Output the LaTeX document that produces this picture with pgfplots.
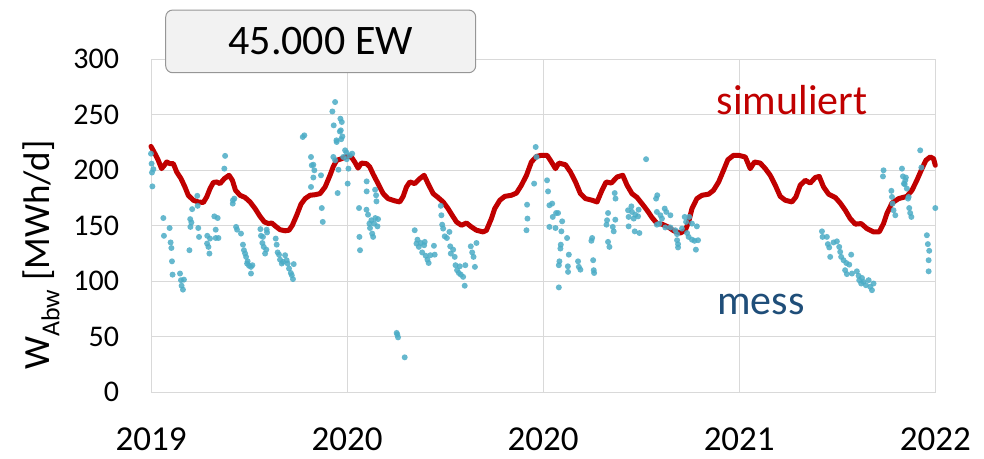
\documentclass[border=0pt]{standalone}
\usepackage{fontspec}
\setmainfont{Carlito}
\usepackage{pgfplots}
\usepackage{pgfplotstable}
\pgfplotsset{compat=1.18}

\definecolor{simred}{RGB}{192,0,0}
\definecolor{messblue}{RGB}{75,172,198}
\definecolor{labelblue}{RGB}{31,78,121}
\definecolor{gridgray}{RGB}{217,217,217}
\definecolor{boxfill}{RGB}{242,242,242}
\definecolor{boxdraw}{RGB}{150,150,150}

% simulated daily demand (x in years since 1 Jan 2019)
\pgfplotstableread{
t v
0.000 221.5
0.020 215
0.037 209
0.054 201.5
0.068 204.5
0.080 207.5
0.097 206
0.114 206
0.131 198.5
0.153 192.5
0.173 185
0.190 177.5
0.216 173
0.241 171.5
0.267 171
0.284 176
0.301 183.5
0.318 189
0.335 189.5
0.352 188
0.374 192.5
0.398 195.5
0.415 191
0.431 182
0.454 177.5
0.480 175.5
0.505 171.5
0.531 165.5
0.556 158.5
0.578 153.5
0.599 152
0.616 152.5
0.636 149.5
0.658 146.5
0.684 145.5
0.704 146
0.721 150.5
0.743 159.5
0.765 169.5
0.786 174.5
0.811 177.5
0.837 178
0.862 179
0.888 185
0.913 195.5
0.930 203.5
0.947 209
0.973 210.5
0.998 212.5
1.022 212
1.039 207.5
1.056 202
1.073 206.5
1.099 206
1.116 203
1.133 196.5
1.158 188
1.184 179
1.209 174.5
1.243 172.5
1.269 171.5
1.286 176.5
1.303 185
1.320 189.5
1.345 188
1.371 192.5
1.393 195.5
1.413 188
1.439 179
1.464 175.5
1.490 171.5
1.515 165.5
1.536 159.5
1.558 153.5
1.583 150.5
1.609 152.5
1.634 149
1.660 146
1.694 144.5
1.711 146
1.736 156.5
1.753 165.5
1.779 173
1.804 176.5
1.838 177.5
1.864 179.5
1.889 186.5
1.915 195.5
1.940 207.5
1.966 212.5
1.991 213.5
2.020 213.5
2.037 209
2.063 201.5
2.080 206.5
2.114 205
2.139 198.5
2.165 189.5
2.190 179
2.216 174.5
2.250 173
2.275 171.5
2.300 182
2.321 189.5
2.348 188.5
2.377 194
2.406 195.5
2.428 186.5
2.453 179
2.479 175.5
2.504 170
2.530 164
2.555 157.5
2.581 152
2.606 151.5
2.637 149
2.666 145.5
2.700 143.5
2.725 146
2.742 153.5
2.759 165.5
2.784 174.5
2.810 177.5
2.844 178.5
2.869 182
2.895 189.5
2.920 200
2.942 209.5
2.971 213.5
2.997 213.5
3.031 212
3.056 201.5
3.078 207.5
3.107 206.5
3.133 201.5
3.158 195.5
3.184 186.5
3.209 176.5
3.235 173
3.269 171.5
3.289 176
3.311 186.5
3.337 191
3.362 188.5
3.388 193.5
3.408 194.5
3.430 185
3.456 178.5
3.490 175.5
3.515 170.5
3.541 164
3.566 156.5
3.592 151.5
3.622 152
3.651 147.5
3.685 144.5
3.714 144.5
3.736 152
3.753 161
3.779 170.5
3.813 174.5
3.855 176.5
3.881 182
3.906 191
3.932 201.5
3.952 209
3.974 212
3.991 210.5
4.000 204.5
}\simtable

% measured daily demand
\pgfplotstableread{
t v
0.000 215
0.003 206
0.005 198
0.012 201
0.007 185.5
0.063 157
0.066 141
0.095 148
0.100 135
0.104 130
0.107 118
0.110 106
0.148 107
0.153 101
0.156 96
0.163 92.5
0.168 101.5
0.196 128
0.200 156
0.206 153
0.201 149
0.210 165
0.236 177
0.238 168
0.241 148
0.245 140
0.287 141
0.286 134
0.293 131
0.298 125
0.301 138.5
0.323 158.5
0.340 157
0.330 146.5
0.330 139
0.344 139
0.374 201.5
0.378 213
0.417 170
0.425 174.5
0.418 173
0.434 149
0.439 146.5
0.459 143
0.469 133
0.474 128
0.480 125
0.485 122
0.490 116
0.493 118
0.500 114
0.510 113
0.517 114.5
0.510 107
0.558 147
0.561 141
0.571 140
0.568 134.5
0.575 131
0.582 125
0.588 128.5
0.590 146.5
0.592 144
0.636 138.5
0.641 133
0.646 126
0.653 124
0.658 119.5
0.667 116
0.673 117.5
0.684 123.5
0.692 119
0.697 116
0.704 111.5
0.713 107.5
0.718 105.5
0.724 102
0.728 115.5
0.774 230
0.782 231.5
0.816 212
0.820 204.5
0.828 205
0.833 200
0.828 193.5
0.816 185
0.867 195.5
0.871 166
0.876 153.5
0.925 253
0.939 261.5
0.932 240.5
0.966 246.5
0.973 243.5
0.963 235
0.976 230.5
0.947 225.5
0.930 212
0.939 209
0.956 200.5
0.952 179.5
0.990 218
0.998 210
1.007 201.5
1.003 188
0.980 212
0.968 236
0.970 228
0.946 227
0.997 216
1.014 213.5
1.026 215
1.061 166
1.063 140
1.066 128
1.100 190
1.100 181
1.099 164.5
1.107 160
1.114 152
1.117 148
1.124 155
1.128 143
1.133 140
1.143 182.5
1.148 177.5
1.150 172
1.144 157
1.158 156
1.155 149.5
1.138 152
1.253 53.5
1.260 49.5
1.256 52
1.294 31.5
1.345 146
1.354 134
1.359 137.5
1.366 131
1.376 134.5
1.383 126
1.393 132.5
1.396 135.5
1.401 123
1.410 119.5
1.416 116.5
1.425 123.5
1.443 132
1.447 124
1.478 168
1.481 159.5
1.485 151
1.490 147.5
1.498 140.5
1.509 139
1.522 144.5
1.526 131.5
1.529 125
1.541 128.5
1.549 122
1.553 114.5
1.561 110
1.570 107.5
1.580 106
1.592 104
1.600 96
1.575 113.5
1.603 114.5
1.631 131.5
1.638 126
1.645 122
1.652 113
1.660 134.5
1.915 146
1.920 156.5
1.918 169
1.954 188
1.962 221
1.966 212
2.020 191
2.025 181
2.032 168.5
2.046 170
2.049 158
2.066 161.5
2.076 161.5
2.032 149
2.063 148
2.097 154
2.093 145
2.122 139
2.090 133
2.088 129.5
2.083 118
2.080 114.5
2.131 124
2.126 113.5
2.127 108.5
2.080 94.5
2.178 118
2.182 113
2.190 110.5
2.250 139
2.246 136.5
2.255 119
2.258 110
2.260 107.5
2.323 151
2.326 155
2.331 161.5
2.331 135.5
2.338 131
2.355 149
2.360 145
2.368 155.5
2.365 179.5
2.369 174.5
2.433 164
2.436 158
2.450 167.5
2.453 162.5
2.462 156.5
2.470 160
2.484 158.5
2.487 164.5
2.436 149.5
2.467 145
2.491 143.5
2.525 210
2.576 174.5
2.582 177.5
2.580 162.5
2.598 159.5
2.620 165.5
2.628 162.5
2.649 159.5
2.606 156.5
2.593 152
2.623 148.5
2.649 148.5
2.674 146
2.683 142.5
2.683 137
2.688 133.5
2.688 130.5
2.722 158
2.729 153.5
2.745 158
2.759 152
2.734 143.5
2.742 140
2.759 137.5
2.772 136.5
2.790 137
2.779 128.5
2.784 149.5
2.708 147.5
2.580 151
3.422 145
3.425 140
3.447 140
3.452 133.5
3.459 130.5
3.464 122
3.481 135
3.498 136
3.510 131
3.515 126.5
3.520 122
3.532 119
3.546 116.5
3.561 115
3.571 124
3.540 110
3.549 106.5
3.575 107
3.600 109
3.609 105
3.612 101
3.622 98
3.634 99.5
3.646 96.5
3.660 101
3.668 95
3.677 92
3.685 98
3.626 103
3.736 200
3.733 194.5
3.776 181.5
3.779 176
3.782 170
3.787 164
3.796 159.5
3.830 201.5
3.835 194.5
3.850 193.5
3.844 187.5
3.855 183.5
3.864 176
3.861 174.5
3.867 166
3.872 161.5
3.878 158
3.923 218
3.929 202.5
4.000 166
3.957 141.5
3.962 133.5
3.969 127.5
3.966 119
3.966 109
3.847 191
3.840 188
}\messtable

\begin{document}
\begin{tikzpicture}
\begin{axis}[
  at={(151bp,66.7bp)}, anchor=south west,
  scale only axis,
  width=784.3bp, height=333bp,
  xmin=0, xmax=4, ymin=0, ymax=300,
  xtick={0,1,2,3,4},
  xticklabels={2019,2020,2020,2021,2022},
  ytick={0,50,...,300},
  major tick length=0pt,
  grid=major,
  grid style={draw=gridgray, line width=1bp},
  axis line style={draw=gridgray, line width=1bp},
  /pgf/number format/assume math mode=true,
  xticklabel style={font=\fontsize{35bp}{42bp}\selectfont, anchor=north, inner sep=0pt, yshift=-35.7bp},
  yticklabel style={font=\fontsize{30bp}{36bp}\selectfont, anchor=east, inner sep=0pt, xshift=-31.7bp},
  ylabel={W\textsubscript{Abw} [MWh/d]},
  ylabel style={font=\fontsize{37bp}{44bp}\selectfont, at={(axis description cs:-0.1288,0.4123)}, anchor=base, rotate=0},
  clip=false,
]
\addplot[simred, line width=5bp, line join=round, line cap=round] table[x=t, y=v] {\simtable};
\addplot[only marks, color=messblue, mark=*, mark size=3bp,
  mark options={draw=messblue, draw opacity=0, fill=messblue, fill opacity=0.85}] table[x=t, y=v] {\messtable};
\end{axis}
% title box
\node[draw=boxdraw, line width=1bp, fill=boxfill, rounded corners=7bp,
  minimum width=310bp, minimum height=62.7bp, inner sep=0pt,
  font=\fontsize{42bp}{50bp}\selectfont] at (320.7bp,417.6bp) {45.000 EW};
% series labels
\node[anchor=base west, inner sep=0pt, text=simred, font=\fontsize{42bp}{50bp}\selectfont]
  at (716.7bp,344bp) {simuliert};
\node[anchor=base west, inner sep=0pt, text=labelblue, font=\fontsize{42bp}{50bp}\selectfont]
  at (717bp,144bp) {mess};
\pgfresetboundingbox
\useasboundingbox (0,0) rectangle (984bp,459bp);
\end{tikzpicture}
\end{document}
